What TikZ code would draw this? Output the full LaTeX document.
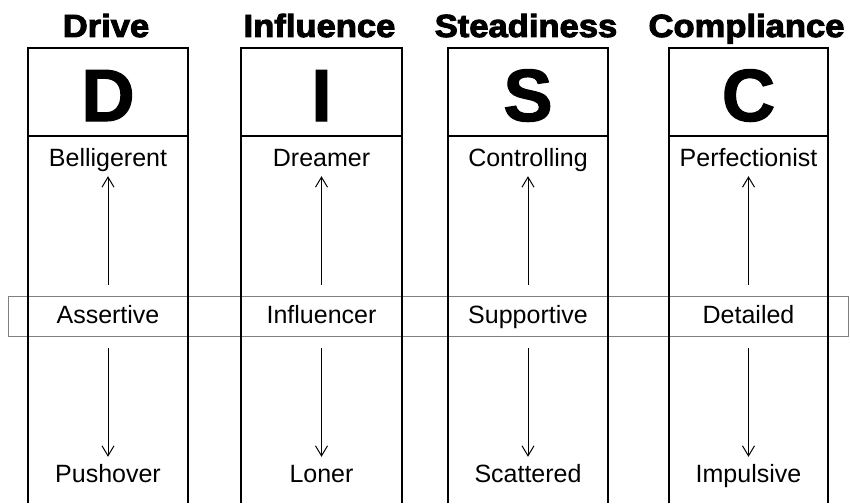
\documentclass[tikz,border=0pt]{standalone}
\usepackage{fontspec}
\setmainfont{Liberation Sans}
\newfontfamily\headfont[FakeBold=3]{Liberation Sans Bold}
\newfontfamily\letterfont[FakeBold=1.5]{Liberation Sans Bold}
\usetikzlibrary{arrows.meta}
\begin{document}
\begin{tikzpicture}[x=1pt,y=-1pt,
  column/.style={line width=2pt, line join=miter},
  heading/.style={anchor=base, inner sep=0pt, font=\headfont\fontsize{32}{32}\selectfont},
  letter/.style={anchor=base, inner sep=0pt, font=\letterfont\fontsize{74}{74}\selectfont},
  trait/.style={anchor=base, inner sep=0pt, text height=18pt, text depth=6pt,
                font=\fontsize{25}{25}\selectfont},
  band/.style={draw=black!50, line width=1pt},
  trend/.style={line width=1pt, -{Straight Barb[length=10pt,width=12pt,line width=1pt]}},
]
\useasboundingbox (0,0) rectangle (850,503);

% middle band across all four columns
\draw[band] (8,296) rectangle (848,336);

% the four columns: name, left edge, right edge, letter, heading, top, middle, bottom
\foreach \n/\l/\r/\ch/\hd/\tp/\md/\bt in {
    D/28/188/D/Drive/Belligerent/Assertive/Pushover,
    I/241/402/I/Influence/Dreamer/Influencer/Loner,
    S/448/608/S/Steadiness/Controlling/Supportive/Scattered,
    C/669/828/C/Compliance/Perfectionist/Detailed/Impulsive} {
  \pgfmathsetmacro{\cx}{(\l+\r)/2}
  \draw[column] (\l,503) -- (\l,48) -- (\r,48) -- (\r,503);
  \draw[column] (\l,136) -- (\r,136);
  \node[heading] (head\n) at (\cx-2,37) {\scalebox{1.08}[1]{\hd}};
  \node[letter] (let\n) at (\cx,121) {\ch};
  \node[trait] (top\n) at (\cx,166) {\tp};
  \node[trait] (mid\n) at (\cx,323) {\md};
  \node[trait] (bot\n) at (\cx,482) {\bt};
  \draw[trend, shorten <=20pt, shorten >=4pt] (mid\n) -- (top\n);
  \draw[trend, shorten <=19pt, shorten >=7pt] (mid\n) -- (bot\n);
}
\end{tikzpicture}
\end{document}
